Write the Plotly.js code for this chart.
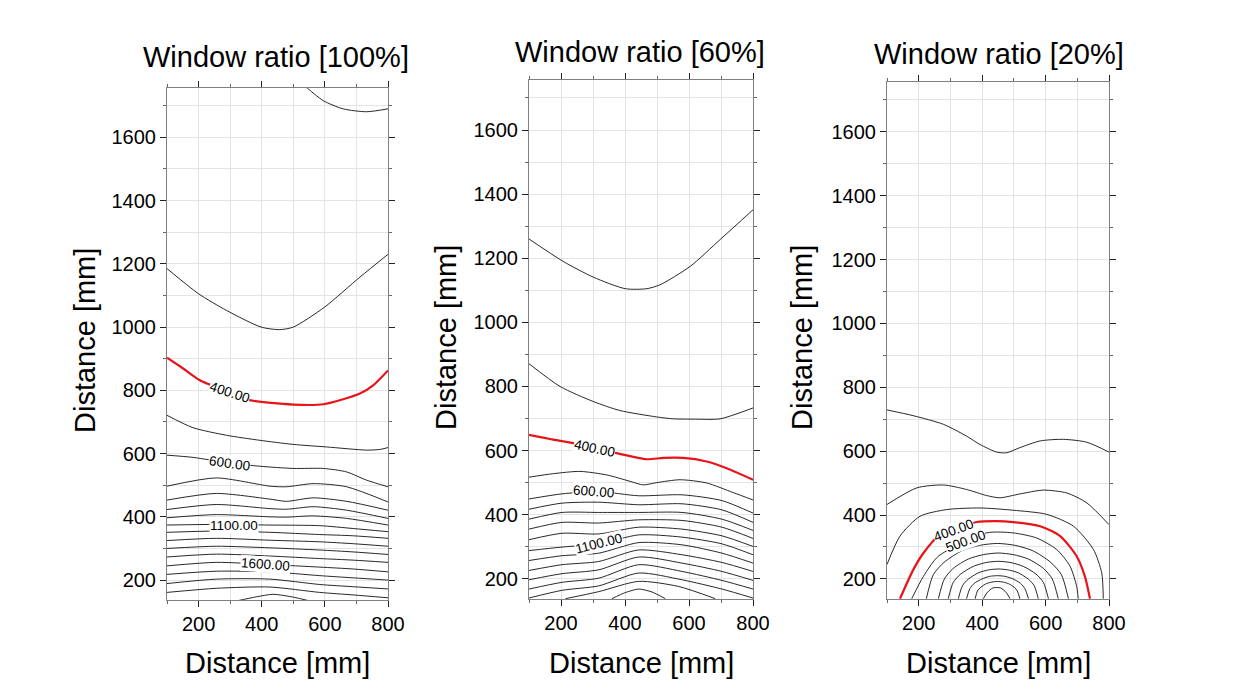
<!DOCTYPE html>
<html>
<head>
<meta charset="utf-8">
<script src="https://cdn.plot.ly/plotly-3.0.1.min.js"></script>
<style>html,body{margin:0;padding:0;background:#fff;}#chart{width:1234px;height:690px;}</style>
</head>
<body>
<div id="chart"></div>
<script>
// ---------------- DATA (data units: mm) ----------------
const panelTitles = ["Window ratio [100%]", "Window ratio [60%]", "Window ratio [20%]"];
const axisTitle = "Distance [mm]";
const xTickVals = [200, 400, 600, 800];
const yTickVals = [200, 400, 600, 800, 1000, 1200, 1400, 1600];
const xRange = [100, 800];
const yRange = [137, 1756];

// ---- Window ratio 100% ----
const w100_c200_x = [531, 542, 595, 658, 732, 800];
const w100_c200_y = [1769, 1758, 1716, 1690, 1681, 1690];
const w100_c300_x = [100, 199, 288, 398, 457, 500, 599, 711, 800];
const w100_c300_y = [1185, 1106, 1053, 1000, 992, 1000, 1063, 1158, 1230];
const w100_c400_x = [100, 151, 204, 299, 362, 500, 595, 711, 753, 800];
const w100_c400_y = [903, 869, 832, 794, 769, 755, 756, 790, 816, 863];
const w100_c500_x = [100, 182, 288, 394, 500, 605, 732, 774, 800];
const w100_c500_y = [721, 682, 658, 642, 629, 621, 611, 613, 619];
const w100_c600_x = [100, 182, 299, 394, 500, 595, 669, 732, 800];
const w100_c600_y = [595, 588, 570, 560, 553, 553, 542, 516, 495];
const w100_mid_x = [100, 256, 426, 478, 563, 669, 800];
const w100_c700_y = [497, 523, 497, 495, 505, 495, 447];
const w100_c800_y = [453, 474, 456, 449, 460, 449, 421];
const w100_c900_y = [423, 439, 426, 424, 432, 421, 395];
const w100_c1000_y = [397, 407, 400, 399, 403, 395, 374];
const w100_low_x = [100, 256, 426, 584, 690, 800];
const w100_c1100_y = [374, 376, 374, 372, 363, 353];
const w100_c1200_y = [351, 355, 351, 344, 340, 332];
const w100_c1300_y = [325, 332, 326, 321, 315, 307];
const w100_c1400_y = [300, 307, 302, 295, 289, 281];
const w100_c1500_y = [273, 282, 276, 268, 263, 256];
const w100_c1600_y = [245, 256, 249, 241, 235, 226];
const w100_c1700_y = [218, 228, 226, 214, 207, 200];
const w100_c1800_y = [189, 203, 203, 186, 179, 172];
const w100_c1900_y = [161, 174, 178, 161, 153, 144];
const w100_c2000_x = [320, 383, 436, 500, 552];
const w100_c2000_y = [134, 147, 155, 146, 134];

// ---- Window ratio 60% ----
const w60_c200_x = [100, 207, 301, 401, 468, 509, 603, 697, 800];
const w60_c200_y = [1260, 1190, 1141, 1105, 1105, 1117, 1174, 1258, 1351];
const w60_c300_x = [100, 197, 301, 384, 499, 551, 620, 697, 800];
const w60_c300_y = [871, 800, 753, 725, 705, 699, 698, 699, 733];
const w60_c400_x = [100, 176, 239, 306, 374, 468, 520, 582, 655, 718, 800];
const w60_c400_y = [649, 634, 623, 608, 592, 573, 577, 577, 566, 545, 509];
const w60_c500_x = [100, 176, 259, 343, 416, 457, 499, 572, 655, 738, 800];
const w60_c500_y = [517, 528, 535, 524, 504, 493, 500, 509, 499, 469, 446];
const w60_low_x = [100, 203, 318, 443, 578, 703, 800];
const w60_c600_y = [449, 465, 472, 459, 462, 444, 405];
const w60_c700_y = [417, 436, 439, 431, 434, 415, 376];
const w60_c800_y = [386, 407, 407, 407, 407, 386, 351];
const w60_c900_y = [355, 376, 374, 384, 382, 361, 326];
const w60_c1000_y = [322, 342, 340, 361, 355, 334, 301];
const w60_c1100_y = [288, 299, 309, 337, 330, 309, 275];
const w60_c1200_y = [257, 272, 280, 313, 306, 280, 249];
const w60_c1300_y = [226, 244, 254, 290, 275, 251, 223];
const w60_c1400_y = [197, 216, 228, 268, 249, 223, 195];
const w60_c1500_y = [168, 189, 202, 244, 223, 195, 168];
const w60_c1600_y = [140, 164, 178, 218, 197, 168, 140];
const w60_c1700_x = [214, 318, 443, 568, 682];
const w60_c1700_y = [138, 160, 192, 176, 138];
const w60_c1800_x = [359, 401, 443, 484, 526];
const w60_c1800_y = [138, 157, 168, 159, 138];

// ---- Window ratio 20% ----
const w20_c100_x = [100, 183, 278, 351, 393, 446, 477, 519, 583, 656, 730, 800];
const w20_c100_y = [729, 711, 684, 647, 621, 597, 595, 611, 632, 637, 628, 597];
const w20_c200_x = [100, 194, 278, 351, 414, 456, 519, 593, 667, 730, 800];
const w20_c200_y = [433, 485, 494, 480, 461, 454, 466, 478, 469, 438, 370];
const w20_c300_x = [100, 141, 204, 288, 393, 498, 604, 688, 751, 777, 782];
const w20_c300_y = [245, 334, 396, 417, 422, 415, 402, 365, 292, 219, 138];
const w20_c400_x = [141, 183, 215, 262, 383, 446, 498, 583, 646, 698, 724, 740];
const w20_c400_y = [138, 229, 281, 334, 378, 381, 378, 365, 334, 271, 208, 138];
const w20_c500_x = [178, 215, 262, 414, 498, 572, 635, 677, 698, 703];
const w20_c500_y = [138, 208, 271, 344, 344, 328, 292, 240, 177, 138];
const w20_c600_x = [224, 246, 280, 336, 392, 448, 504, 560, 616, 650, 672];
const w20_c600_y = [138, 213, 252, 288, 305, 311, 305, 288, 252, 213, 138];
const w20_c700_x = [262, 281, 309, 356, 404, 451, 498, 546, 593, 621, 640];
const w20_c700_y = [138, 200, 233, 262, 276, 281, 276, 262, 233, 200, 138];
const w20_c800_x = [293, 309, 332, 372, 411, 451, 491, 530, 570, 593, 609];
const w20_c800_y = [138, 189, 215, 239, 251, 255, 251, 239, 215, 189, 138];
const w20_c900_x = [325, 338, 356, 388, 420, 451, 483, 514, 546, 564, 577];
const w20_c900_y = [138, 179, 199, 219, 228, 231, 228, 219, 199, 179, 138];
const w20_c1000_x = [351, 361, 375, 400, 424, 448, 472, 497, 521, 535, 546];
const w20_c1000_y = [138, 169, 186, 200, 208, 210, 208, 200, 186, 169, 138];
const w20_c1100_x = [378, 385, 396, 413, 431, 448, 466, 483, 501, 511, 519];
const w20_c1100_y = [138, 162, 174, 185, 190, 192, 190, 185, 174, 162, 138];
const w20_c1200_x = [404, 415, 425, 435, 457, 467, 477, 488];
const w20_c1200_y = [138, 156, 166, 172, 172, 166, 156, 138];

// contour labels: [text, x, y, angle]
const w100_labels = [["400.00", 299, 792, 18], ["600.00", 299, 570, 8], ["1100.00", 311, 374, 0], ["1600.00", 413, 249, 4]];
const w60_labels = [["400.00", 306, 608, 12], ["600.00", 301, 471, 4], ["1100.00", 318, 309, -14]];
const w20_labels = [["400.00", 309, 352, -20], ["500.00", 346, 317, -20]];

// ---------------- BUILD ----------------
const FONT = 'Arial, "Liberation Sans", Helvetica, sans-serif';
const RED = '#e8141a';
const traces = [];
function addLine(x, y, ax, red) {
  traces.push({
    type: 'scatter', mode: 'lines', x: x, y: y,
    xaxis: 'x' + ax, yaxis: 'y' + ax,
    line: {color: red ? RED : '#111', width: red ? 2.2 : 0.9, shape: 'spline', smoothing: 0.7},
    hoverinfo: 'skip', showlegend: false
  });
}
// panel 1
addLine(w100_c200_x, w100_c200_y, '', false);
addLine(w100_c300_x, w100_c300_y, '', false);
addLine(w100_c400_x, w100_c400_y, '', true);
addLine(w100_c500_x, w100_c500_y, '', false);
addLine(w100_c600_x, w100_c600_y, '', false);
[w100_c700_y, w100_c800_y, w100_c900_y, w100_c1000_y].forEach(y => addLine(w100_mid_x, y, '', false));
[w100_c1100_y, w100_c1200_y, w100_c1300_y, w100_c1400_y, w100_c1500_y, w100_c1600_y, w100_c1700_y, w100_c1800_y, w100_c1900_y]
  .forEach(y => addLine(w100_low_x, y, '', false));
addLine(w100_c2000_x, w100_c2000_y, '', false);
// panel 2
addLine(w60_c200_x, w60_c200_y, '2', false);
addLine(w60_c300_x, w60_c300_y, '2', false);
addLine(w60_c400_x, w60_c400_y, '2', true);
addLine(w60_c500_x, w60_c500_y, '2', false);
[w60_c600_y, w60_c700_y, w60_c800_y, w60_c900_y, w60_c1000_y, w60_c1100_y, w60_c1200_y, w60_c1300_y, w60_c1400_y, w60_c1500_y, w60_c1600_y]
  .forEach(y => addLine(w60_low_x, y, '2', false));
addLine(w60_c1700_x, w60_c1700_y, '2', false);
addLine(w60_c1800_x, w60_c1800_y, '2', false);
// panel 3
addLine(w20_c100_x, w20_c100_y, '3', false);
addLine(w20_c200_x, w20_c200_y, '3', false);
addLine(w20_c300_x, w20_c300_y, '3', false);
addLine(w20_c400_x, w20_c400_y, '3', true);
addLine(w20_c500_x, w20_c500_y, '3', false);
addLine(w20_c600_x, w20_c600_y, '3', false);
addLine(w20_c700_x, w20_c700_y, '3', false);
addLine(w20_c800_x, w20_c800_y, '3', false);
addLine(w20_c900_x, w20_c900_y, '3', false);
addLine(w20_c1000_x, w20_c1000_y, '3', false);
addLine(w20_c1100_x, w20_c1100_y, '3', false);
addLine(w20_c1200_x, w20_c1200_y, '3', false);

const W = 1234, H = 690;
function px(v) { return v / W; }
function py(v) { return 1 - v / H; }

function xAxis(dom, anchor) {
  return {
    domain: dom, anchor: anchor, range: xRange, tickvals: xTickVals,
    ticks: 'outside', ticklen: 6, tickwidth: 1, tickcolor: '#222',
    showline: true, linecolor: '#808080', linewidth: 1, mirror: 'ticks',
    showgrid: true, gridcolor: '#e4e4e4', gridwidth: 1, zeroline: false,
    minor: {dtick: 100, tick0: 0, ticks: 'outside', ticklen: 3, tickcolor: '#666', showgrid: true, gridcolor: '#e4e4e4'},
    tickfont: {family: FONT, size: 20, color: '#000'}, fixedrange: true
  };
}
function yAxis(dom, anchor) {
  return {
    domain: dom, anchor: anchor, range: yRange, tickvals: yTickVals,
    ticks: 'outside', ticklen: 6, tickwidth: 1, tickcolor: '#222',
    showline: true, linecolor: '#808080', linewidth: 1, mirror: 'ticks',
    showgrid: true, gridcolor: '#e4e4e4', gridwidth: 1, zeroline: false,
    minor: {dtick: 100, tick0: 0, ticks: 'outside', ticklen: 3, tickcolor: '#666', showgrid: true, gridcolor: '#e4e4e4'},
    tickfont: {family: FONT, size: 20, color: '#000'}, fixedrange: true
  };
}

const annotations = [];
const titlePos = [[276, 57], [640, 52], [999, 54]];
const xTitlePos = [[277, 663], [641, 663], [998, 663]];
const yTitlePos = [[85, 341], [446, 338], [802, 338]];
for (let i = 0; i < 3; i++) {
  annotations.push({xref: 'paper', yref: 'paper', x: px(titlePos[i][0]), y: py(titlePos[i][1]), xanchor: 'center', yanchor: 'middle',
    text: panelTitles[i], showarrow: false, font: {family: FONT, size: 29, color: '#000'}});
  annotations.push({xref: 'paper', yref: 'paper', x: px(xTitlePos[i][0]), y: py(xTitlePos[i][1]), xanchor: 'center', yanchor: 'middle',
    text: axisTitle, showarrow: false, font: {family: FONT, size: 29, color: '#000'}});
  annotations.push({xref: 'paper', yref: 'paper', x: px(yTitlePos[i][0]), y: py(yTitlePos[i][1]), xanchor: 'center', yanchor: 'middle',
    text: axisTitle, textangle: -90, showarrow: false, font: {family: FONT, size: 29, color: '#000'}});
}
function addLabels(list, ax) {
  list.forEach(l => annotations.push({
    xref: 'x' + ax, yref: 'y' + ax, x: l[1], y: l[2], text: l[0], textangle: l[3],
    showarrow: false, bgcolor: '#fff', borderpad: 0, xanchor: 'center', yanchor: 'middle',
    font: {family: FONT, size: 13.5, color: '#000'}
  }));
}
addLabels(w100_labels, '');
addLabels(w60_labels, '2');
addLabels(w20_labels, '3');

const layout = {
  width: W, height: H, margin: {l: 0, r: 0, t: 0, b: 0},
  paper_bgcolor: '#fff', plot_bgcolor: '#fff', showlegend: false,
  xaxis: xAxis([px(167), px(388)], 'y'),
  yaxis: yAxis([py(600), py(88)], 'x'),
  xaxis2: xAxis([px(529), px(753)], 'y2'),
  yaxis2: yAxis([py(599), py(80)], 'x2'),
  xaxis3: xAxis([px(887), px(1109)], 'y3'),
  yaxis3: yAxis([py(599), py(82)], 'x3'),
  annotations: annotations
};
Plotly.newPlot('chart', traces, layout, {staticPlot: true, displayModeBar: false});
</script>
</body>
</html>
